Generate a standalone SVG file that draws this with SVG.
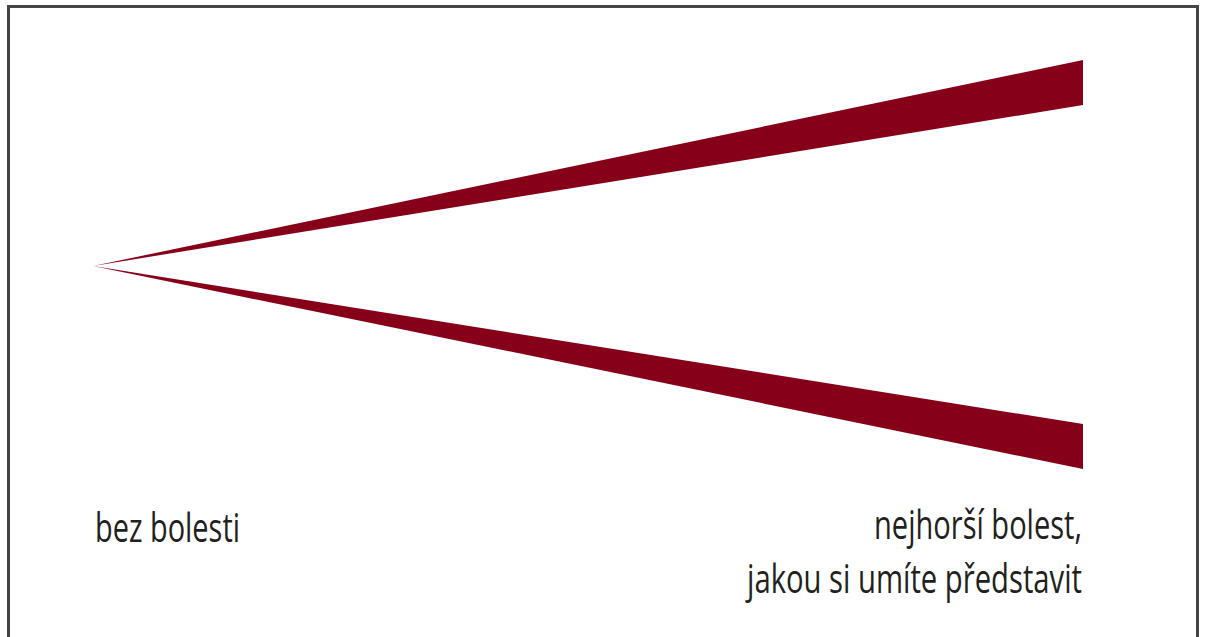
<svg xmlns="http://www.w3.org/2000/svg" width="1205" height="637" viewBox="0 0 1205 637">
<style>
.wedge{fill:#870019}
.lbl{font-family:"Open Sans","Liberation Sans",sans-serif;font-size:40px;fill:#231f20}
.frame{fill:none;stroke:#444;stroke-width:3}
</style>
<rect width="1205" height="637" fill="#fff"/>
<path class="frame" d="M8.5,645 V6.5 H1197.5 V645"/>
<g id="upper-wedge"><polygon class="wedge" points="93,266 1083,60 1083,105"/></g>
<g id="lower-wedge"><polygon class="wedge" points="93,266 1083,424 1083,469"/></g>
<g id="label-left"><text class="lbl" x="95" y="542" textLength="145" lengthAdjust="spacingAndGlyphs">bez bolesti</text></g>
<g id="label-right">
<text class="lbl" x="874" y="539" textLength="208" lengthAdjust="spacingAndGlyphs">nejhorší bolest,</text>
<text class="lbl" x="747" y="593" textLength="335" lengthAdjust="spacingAndGlyphs">jakou si umíte představit</text>
</g>
</svg>
